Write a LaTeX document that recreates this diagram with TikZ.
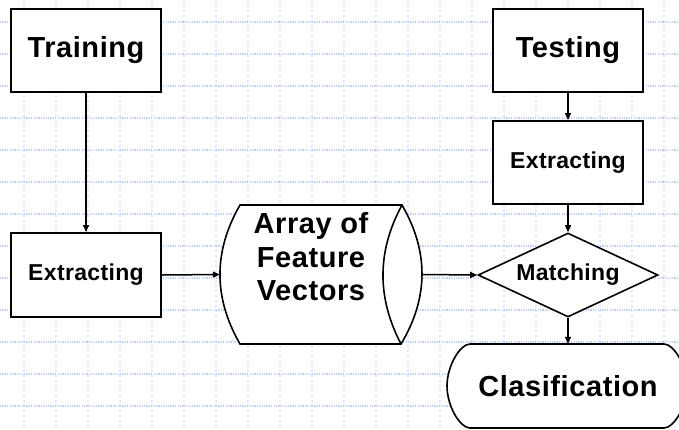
\documentclass[tikz,border=0pt]{standalone}
\usepackage{fontspec}
\setmainfont{Liberation Sans}
\usetikzlibrary{arrows.meta,shapes.geometric}
\definecolor{gridH}{RGB}{188,207,246}
\definecolor{gridV}{RGB}{224,227,252}
\tikzset{
  gridh/.style={gridH,line width=1.2pt,dash pattern=on 1.2pt off 1.2pt},
  gridv/.style={gridV,line width=1.2pt,dash pattern=on 2pt off 3pt},
  bigtxt/.style={font=\bfseries\fontsize{29}{33.5}\selectfont\addfontfeature{LetterSpace=2}},
  smalltxt/.style={font=\bfseries\fontsize{23}{27}\selectfont\addfontfeature{LetterSpace=1.5}},
  boxnode/.style={draw=black,fill=white,line width=2pt,rectangle,inner sep=0pt,minimum width=150pt},
  outline/.style={draw=black,fill=white,line width=1.6pt},
  conn/.style={line width=1.5pt,-{Triangle[length=7pt,width=6pt]}}
}
\begin{document}
\begin{tikzpicture}[x=1pt,y=-1pt]
\fill[white] (0,0) rectangle (679,429);
\useasboundingbox (0,0) rectangle (679,429);
% grid
\foreach \x in {24,56,...,664} \draw[gridv] (\x,0) -- (\x,429);
\foreach \y in {22,54,...,406} \draw[gridh] (0,\y) -- (679,\y);
% boxes
\node[boxnode,bigtxt,minimum height=83pt] (train) at (86,50.5) {Training};
\node[boxnode,smalltxt,minimum height=84pt] (extL) at (86,275) {Extracting};
\node[boxnode,bigtxt,minimum height=83pt] (test) at (568,50.5) {Testing};
\node[boxnode,smalltxt,minimum height=83pt] (extR) at (568,162.5) {Extracting};
% cylinder
\node[rectangle,inner sep=0pt,minimum width=202pt,minimum height=139pt] (cyl) at (321,274.5) {};
\draw[outline] (240,205) -- (402,205) .. controls (428.8,251.3) and (428.8,297.7) .. (401,344)
  -- (240,344) .. controls (213.3,297.7) and (213.3,251.3) .. (240,205) -- cycle;
\draw[line width=1.6pt] (402,205) .. controls (376.8,251.3) and (376.8,297.7) .. (401,344);
\node[bigtxt,align=center,anchor=north,inner sep=0pt] (cyltext) at (311,212.5) {Array of\\Feature\\Vectors};
% diamond
\node[diamond,draw=black,fill=white,line width=1.6pt,inner sep=0pt,minimum width=180pt,minimum height=84pt,aspect=2.14,smalltxt] (dia) at (568,275) {Matching};
% terminal
\draw[outline] (470,344) -- (664,344) .. controls (674,344) and (687,366) .. (687,386)
  .. controls (687,406) and (674,428) .. (664,428) -- (470,428)
  .. controls (460,428) and (447,406) .. (447,386)
  .. controls (447,366) and (460,344) .. (470,344) -- cycle;
\node[bigtxt,inner sep=0pt,minimum width=194pt,minimum height=84pt] (clas) at (568,386) {Clasification};
% connectors
\draw[conn] (train.south) -- (extL.north);
\draw[conn] (extL.east) -- (cyl.west);
\draw[conn] (cyl.east) -- (dia.west);
\draw[conn] (test.south) -- (extR.north);
\draw[conn] (extR.south) -- (dia.north);
\draw[conn] (dia.south) -- (clas.north);
\end{tikzpicture}
\end{document}
